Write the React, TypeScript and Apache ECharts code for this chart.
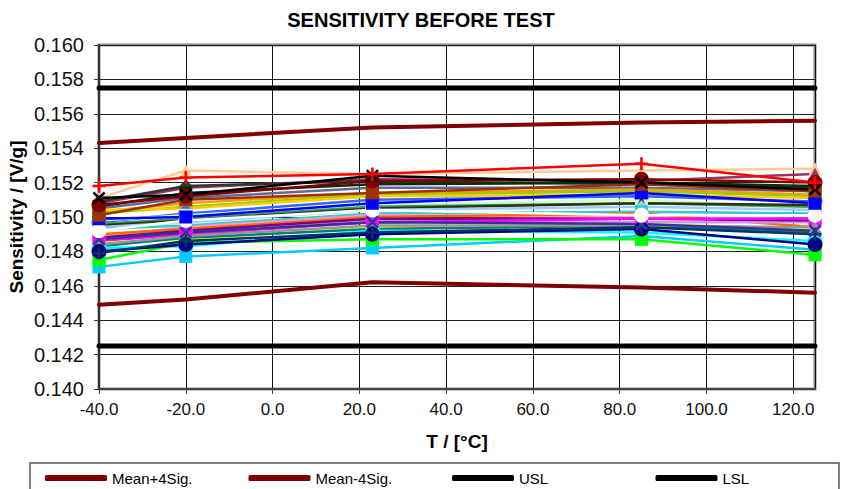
import React, { useEffect, useRef } from "react";
import * as echarts from "echarts";

const temps = [-40, -20, 23, 85, 125];
const meanPlus4Sig = [0.1543, 0.1546, 0.1552, 0.1555, 0.1556];
const meanMinus4Sig = [0.1449, 0.1452, 0.1462, 0.1459, 0.1456];
const uslValues = [0.1575, 0.1575, 0.1575, 0.1575, 0.1575];
const lslValues = [0.1425, 0.1425, 0.1425, 0.1425, 0.1425];

const xTickDigits = 1;
const yTickDigits = 3;

const PLUS = "path://M4,0H6V4H10V6H6V10H4V6H0V4H4Z";
const CROSS = "path://M1.4,0L5,3.6L8.6,0L10,1.4L6.4,5L10,8.6L8.6,10L5,6.4L1.4,10L0,8.6L3.6,5L0,1.4Z";

// device curves (drawn in order, later on top)
const deviceColors = [
  "#FFCC99", "#993366", "#333333", "#003300", "#666699", "#FF9900", "#99CC00", "#FFCC00",
  "#3366FF", "#CCFFCC", "#339966", "#333300", "#99CCFF", "#33CCCC", "#FF99CC", "#FF6600",
  "#CC99FF", "#800080", "#FF00FF", "#FFFF00", "#008080", "#00FFFF", "#969696",
  "#00CCFF", "#00FF00", "#000080", "#003366", "#333399", "#FFFFFF", "#0000FF", "#993300",
  "#800000", "#000000", "#FF0000",
];
const deviceSymbols = [
  "triangle", "triangle", "diamond", "rect", "diamond", "triangle", "rect", "diamond",
  "circle", "rect", "triangle", "triangle", "diamond", "rect", "diamond", "triangle",
  "rect", "diamond", "rect", "triangle", "diamond", "circle", "triangle",
  "rect", "rect", "circle", "plus", "cross", "circle", "rect", "rect",
  "circle", "cross", "plus",
];
const deviceValues = [
  [0.1511, 0.1527, 0.1525, 0.1527, 0.1528],
  [0.1508, 0.1517, 0.1522, 0.1521, 0.1525],
  [0.1509, 0.1518, 0.1521, 0.1519, 0.1517],
  [0.1506, 0.1514, 0.1519, 0.152, 0.1518],
  [0.1505, 0.1511, 0.1517, 0.1517, 0.1515],
  [0.1503, 0.1508, 0.1514, 0.1516, 0.1513],
  [0.1502, 0.1506, 0.1513, 0.1515, 0.1512],
  [0.1504, 0.1505, 0.1512, 0.1513, 0.1511],
  [0.1497, 0.1502, 0.151, 0.1512, 0.1509],
  [0.1498, 0.1501, 0.1507, 0.151, 0.1505],
  [0.1496, 0.1499, 0.1506, 0.1508, 0.1506],
  [0.1495, 0.1498, 0.1505, 0.1508, 0.1507],
  [0.1494, 0.1497, 0.1504, 0.1506, 0.1504],
  [0.1493, 0.1495, 0.1502, 0.1503, 0.1502],
  [0.1489, 0.1494, 0.1501, 0.15, 0.1499],
  [0.149, 0.1493, 0.15, 0.1502, 0.1494],
  [0.1487, 0.1491, 0.1498, 0.1497, 0.1497],
  [0.1488, 0.1492, 0.1499, 0.1499, 0.1498],
  [0.1486, 0.149, 0.1497, 0.1499, 0.1499],
  [0.1485, 0.1487, 0.1494, 0.1496, 0.1493],
  [0.1483, 0.1488, 0.1493, 0.1495, 0.1491],
  [0.1482, 0.1483, 0.1492, 0.1491, 0.1486],
  [0.1484, 0.1489, 0.1495, 0.1495, 0.1494],
  [0.1471, 0.1477, 0.1482, 0.1489, 0.1481],
  [0.1475, 0.1485, 0.1487, 0.1487, 0.1478],
  [0.148, 0.1484, 0.149, 0.1493, 0.1484],
  [0.1479, 0.1486, 0.1491, 0.1494, 0.149],
  [0.1487, 0.1491, 0.1497, 0.1496, 0.1492],
  [0.1492, 0.1498, 0.1504, 0.1501, 0.1501],
  [0.1499, 0.15, 0.1508, 0.1514, 0.1508],
  [0.1501, 0.151, 0.1514, 0.1519, 0.1515],
  [0.1507, 0.1512, 0.1521, 0.1522, 0.152],
  [0.1511, 0.1513, 0.1524, 0.152, 0.1516],
  [0.1518, 0.1523, 0.1525, 0.1531, 0.152],
];

const legendNames = ["Mean+4Sig.", "Mean-4Sig.", "USL", "LSL"];

const FONT = "'Liberation Sans', Arial, sans-serif";

function pairs(vals: number[]) {
  return temps.map((t, i) => [t, vals[i]]);
}

function symbolOf(s: string) {
  if (s === "plus") return PLUS;
  if (s === "cross") return CROSS;
  return s;
}

export default function App() {
  const ref = useRef<HTMLDivElement>(null);

  useEffect(() => {
    document.body.style.margin = "0";
    if (!ref.current) return;
    const chart = echarts.init(ref.current, undefined, { renderer: "svg" });

    const deviceSeries = deviceValues.map((vals, i) => ({
      type: "line",
      name: "Device " + (i + 1),
      data: pairs(vals),
      symbol: symbolOf(deviceSymbols[i]),
      symbolSize: deviceSymbols[i] === "circle" ? 15 : 13,
      lineStyle: { color: deviceColors[i], width: 2.5 },
      itemStyle: { color: deviceColors[i] },
      silent: true,
      z: 3,
    }));

    const limitSeries = [
      { name: legendNames[0], vals: meanPlus4Sig, color: "#800000", width: 4 },
      { name: legendNames[1], vals: meanMinus4Sig, color: "#800000", width: 4 },
      { name: legendNames[2], vals: uslValues, color: "#000000", width: 5 },
      { name: legendNames[3], vals: lslValues, color: "#000000", width: 5 },
    ].map((s) => ({
      type: "line",
      name: s.name,
      data: pairs(s.vals),
      symbol: "none",
      lineStyle: { color: s.color, width: s.width, cap: "round" },
      itemStyle: { color: s.color },
      silent: true,
      z: 2,
    }));

    chart.setOption({
      animation: false,
      textStyle: { fontFamily: FONT },
      title: {
        text: "SENSITIVITY BEFORE TEST",
        left: "center",
        top: 5,
        textStyle: { fontFamily: FONT, fontSize: 20, fontWeight: "bold", color: "#000" },
      },
      grid: {
        left: 99,
        right: 27,
        top: 45,
        bottom: 100,
        containLabel: false,
        outerBoundsMode: "none",
        show: true,
        borderColor: "#8a8a8a",
        borderWidth: 3,
        backgroundColor: "transparent",
      },
      legend: {
        data: legendNames.map((n) => ({ name: n, icon: "roundRect" })),
        left: 45,
        top: 470,
        width: 840,
        padding: 0,
        itemGap: 0,
        itemWidth: 62,
        itemHeight: 6,
        textStyle: { fontFamily: FONT, fontSize: 15, color: "#000", width: 136.5, lineHeight: 16 },
        selectedMode: false,
      },
      xAxis: {
        type: "value",
        min: -40,
        max: 125,
        interval: 20,
        name: "T / [°C]",
        nameLocation: "middle",
        nameGap: 43,
        nameMoveOverlap: false,
        nameTextStyle: { fontFamily: FONT, fontSize: 19, fontWeight: "bold", color: "#000" },
        axisLine: { show: true, onZero: false, lineStyle: { color: "#444", width: 2 } },
        axisTick: { show: true, length: 5, lineStyle: { color: "#444", width: 1 } },
        axisLabel: {
          showMaxLabel: false,
          margin: 12,
          fontSize: 17,
          color: "#111",
          fontFamily: FONT,
          formatter: (v: number) => v.toFixed(xTickDigits),
        },
        splitLine: { show: true, lineStyle: { color: "#111", width: 1 } },
      },
      yAxis: {
        type: "value",
        min: 0.14,
        max: 0.16,
        interval: 0.002,
        name: "Sensitivity / [V/g]",
        nameLocation: "middle",
        nameGap: 73,
        nameMoveOverlap: false,
        nameTextStyle: { fontFamily: FONT, fontSize: 19, fontWeight: "bold", color: "#000" },
        axisLine: { show: true, onZero: false, lineStyle: { color: "#333", width: 2 } },
        axisTick: { show: true, length: 5, lineStyle: { color: "#333", width: 1 } },
        axisLabel: {
          margin: 15,
          fontSize: 20,
          color: "#111",
          fontFamily: FONT,
          formatter: (v: number) => v.toFixed(yTickDigits),
        },
        splitLine: { show: true, lineStyle: { color: "#222", width: 1 } },
      },
      graphic: [
        {
          type: "rect",
          shape: { x: 30, y: 463, width: 809, height: 60 },
          style: { fill: "none", stroke: "#555", lineWidth: 1.5 },
          silent: true,
        },
      ],
      series: [...limitSeries, ...deviceSeries],
    });

    return () => chart.dispose();
  }, []);

  return <div ref={ref} style={{ width: 842, height: 489 }} />;
}
